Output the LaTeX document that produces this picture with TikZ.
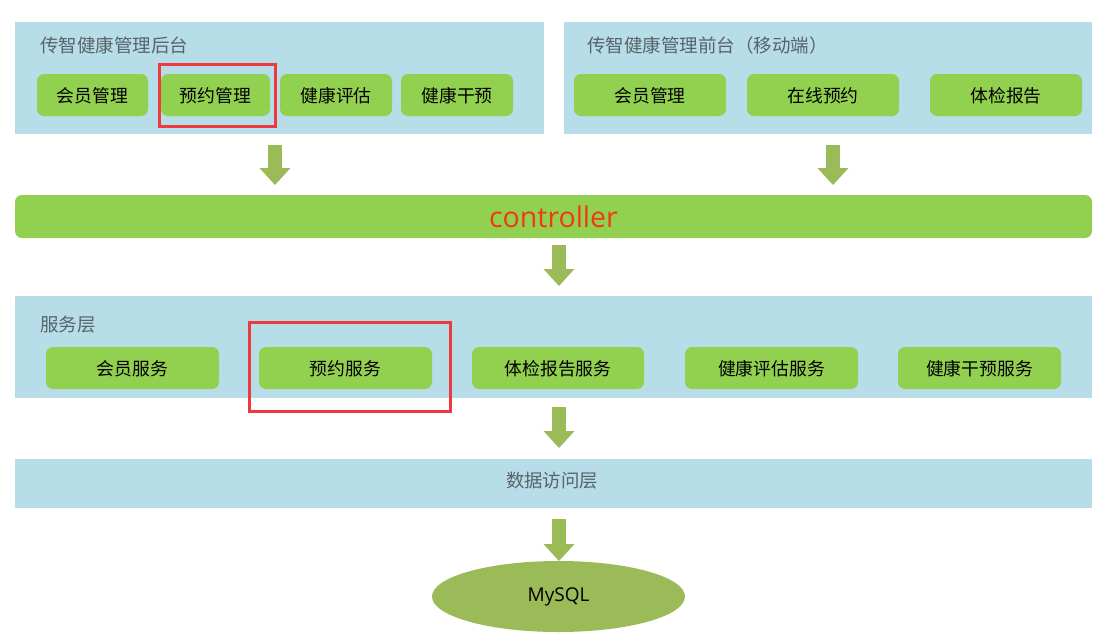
\documentclass[tikz,border=0pt]{standalone}
\usepackage{fontspec}
\setmainfont{Noto Sans CJK SC}
\newfontfamily\latinfont{Open Sans}
\usetikzlibrary{arrows.meta,shapes.geometric}
\definecolor{panelblue}{HTML}{B6DDE8}
\definecolor{btngreen}{HTML}{92D050}
\definecolor{arrowgreen}{HTML}{9BBB59}
\definecolor{titlegray}{HTML}{59636B}
\definecolor{markred}{HTML}{EC3A3F}
\definecolor{ctrlred}{HTML}{F03A10}

\begin{document}
\begin{tikzpicture}
[x=1pt,y=-1pt,
panel/.style={fill=panelblue,inner sep=0pt,outer sep=0pt},
btn/.style={fill=btngreen,rounded corners=7pt,minimum height=42pt,inner sep=0pt,outer sep=0pt,font=\fontsize{17.8}{20}\selectfont},
btntext/.style={text height=17pt,text depth=3pt},
paneltitle/.style={anchor=west,inner sep=0pt,text=titlegray,font=\fontsize{18.5}{20}\selectfont},
blockarrow/.style={draw=arrowgreen,line width=14pt,-{Triangle[length=17pt,width=30pt]},shorten <=11pt,shorten >=10pt},
markbox/.style={draw=markred,line width=3pt,inner sep=0pt},
]
\useasboundingbox (0,0) rectangle (1112,640);

% panels
\node[panel,minimum width=529pt,minimum height=112pt] (backend) at (279.5,78) {};
\node[panel,minimum width=528pt,minimum height=112pt] (frontend) at (828,78) {};
\node[panel,minimum width=1077pt,minimum height=102pt] (service) at (553.5,347) {};
\node[panel,minimum width=1077pt,minimum height=49pt,text height=14pt,text depth=6pt,text=titlegray,font=\fontsize{18.4}{20}\selectfont] (dao) at (553.5,483.5) {\hspace*{-3pt}数据访问层};

\node[paneltitle] (backendtitle) at (40,45) {传智健康管理后台};
\node[paneltitle] (frontendtitle) at (587,45) {传智健康管理前台（移动端）};
\node[paneltitle] (servicetitle) at (40,325) {服务层};

% buttons: name/center x/width/text
\foreach \name/\cx/\w/\txt in {
  bmember/92.5/111/会员管理,
  bbooking/215.5/109/预约管理,
  bassess/336/112/健康评估,
  bcare/457/112/健康干预,
  fmember/650/152/会员管理,
  fbooking/823/152/在线预约,
  freport/1006/152/体检报告}
{
\node[btn,btntext,minimum width=\w pt] (\name) at (\cx,95) {\txt};
}
\foreach \name/\cx/\w/\txt in {
  smember/132.5/173/会员服务,
  sbooking/345.5/173/预约服务,
  sreport/558/172/体检报告服务,
  sassess/771.5/173/健康评估服务,
  scare/979.5/163/健康干预服务}
{
\node[btn,btntext,minimum width=\w pt] (\name) at (\cx,368) {\txt};
}

\node[btn,minimum width=1077pt,minimum height=43pt,text=ctrlred,font=\fontsize{28.5}{30}\latinfont] (controller) at (553.5,216.5) {controller};
\node[ellipse,fill=arrowgreen,minimum width=253pt,minimum height=71pt,inner sep=0pt,outer sep=0pt,font=\fontsize{19}{20}\latinfont] (mysql) at (558.5,596.5) {\raisebox{-1.5pt}{MySQL}};

% red marks
\node[markbox,minimum width=116pt,minimum height=62pt] (markbackend) at (217,95) {};
\node[markbox,minimum width=201pt,minimum height=89pt] (markservice) at (349.5,366.5) {};

% arrows
\coordinate (arrowback) at (275,134);
\coordinate (arrowfront) at (833,134);
\coordinate (arrowctrl) at (559,238);
\coordinate (arrowsvc) at (559,398);
\coordinate (arrowdao) at (559,508);
\draw[blockarrow] (arrowback) -- (arrowback |- controller.north);
\draw[blockarrow] (arrowfront) -- (arrowfront |- controller.north);
\draw[blockarrow,shorten >=10pt,shorten <=7pt] (arrowctrl) -- (arrowctrl |- service.north);
\draw[blockarrow,shorten <=9pt,shorten >=11pt] (arrowsvc) -- (arrowsvc |- dao.north);
\draw[blockarrow,shorten >=0pt] (arrowdao) -- (arrowdao |- mysql.north);
\end{tikzpicture}
\end{document}
